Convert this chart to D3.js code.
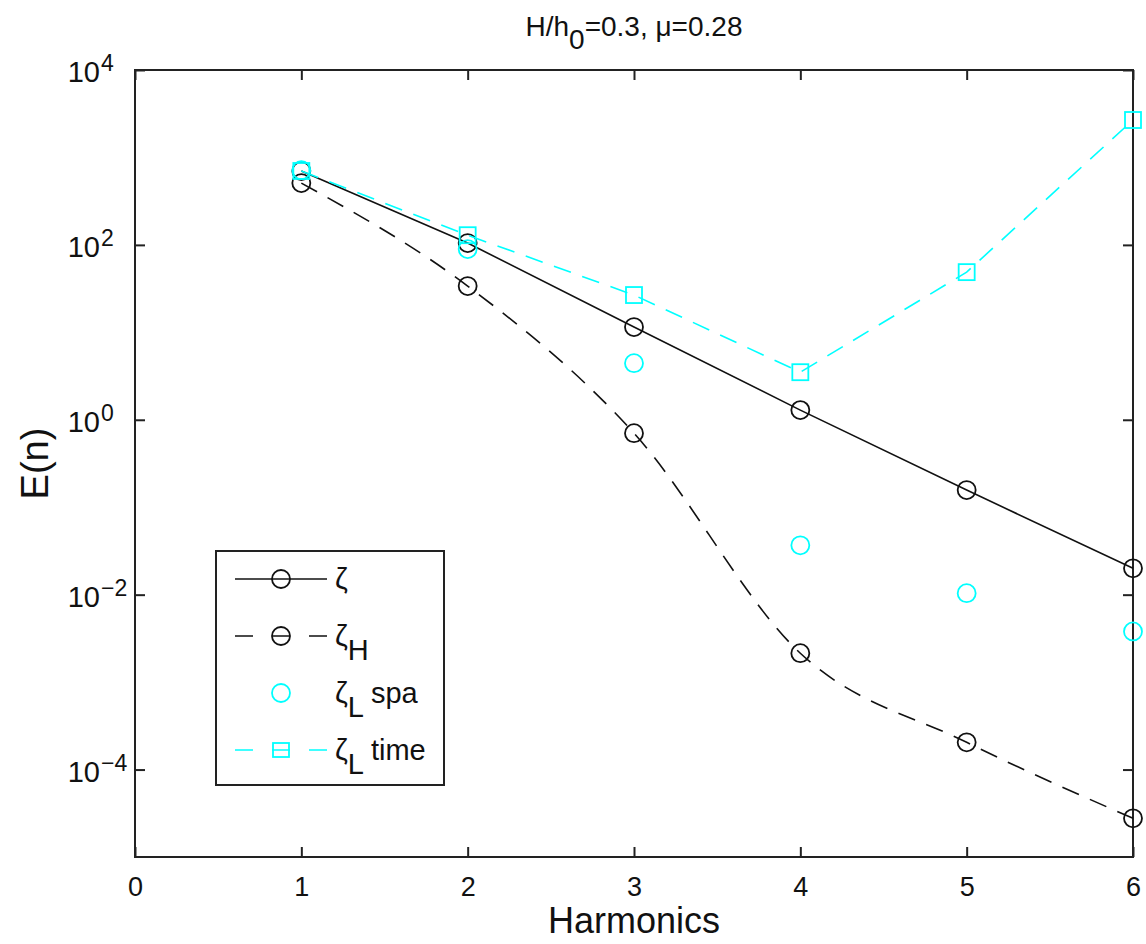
<!DOCTYPE html>
<html>
<head>
<meta charset="utf-8">
<script src="https://cdn.jsdelivr.net/npm/d3@7"></script>
<style>
body { margin: 0; background: #fff; }
</style>
</head>
<body>
<div id="chart"></div>
<script>
// values
const harmonics = [1, 2, 3, 4, 5, 6];
const zeta = [700, 105, 11.5, 1.29, 0.157, 0.020];
const zeta_H = [509, 33.8, 0.703, 0.00214, 2.05e-4, 2.77e-5];
const zeta_L_spa = [715, 89.6, 4.44, 0.0367, 0.0104, 0.0038];
const zeta_L_time = [700, 129, 26.7, 3.5, 48.8, 2680];
const x_ticks = [0, 1, 2, 3, 4, 5, 6];
const y_exponents = [4, 2, 0, -2, -4];

const width = 1146, height = 944;
const plot_left = 135, plot_right = 1133, plot_top = 70, plot_bottom = 857;
const font = "'Liberation Sans', Arial, sans-serif";
const cyan = '#00ffff';

var svg = d3.select('#chart').append('svg')
	.attr('width', width)
	.attr('height', height)
	.style('font-family', font)

var x = d3.scaleLinear().domain([0, 6]).range([plot_left, plot_right]);
var y = d3.scaleLog().domain([1e-5, 1e4]).range([plot_bottom, plot_top]);

// axes, ticks inward, mirrored on top and right
svg.append('g')
	.attr('transform', 'translate(0,' + plot_bottom + ')')
	.call(d3.axisBottom(x).tickValues(x_ticks).tickSizeInner(-10).tickSizeOuter(0).tickPadding(20).tickFormat(d3.format('d')))
svg.append('g')
	.attr('transform', 'translate(0,' + plot_top + ')')
	.call(d3.axisTop(x).tickValues(x_ticks).tickSizeInner(-10).tickSizeOuter(0).tickFormat(''))
svg.append('g')
	.attr('transform', 'translate(' + plot_left + ',0)')
	.call(d3.axisLeft(y).tickValues(y_exponents.map(e => Math.pow(10, e))).tickSizeInner(-10).tickSizeOuter(0).tickFormat(''))
svg.append('g')
	.attr('transform', 'translate(' + plot_right + ',0)')
	.call(d3.axisRight(y).tickValues(y_exponents.map(e => Math.pow(10, e))).tickSizeInner(-10).tickSizeOuter(0).tickFormat(''))

svg.selectAll('.domain').remove()
svg.selectAll('.tick line').attr('stroke', '#222').attr('stroke-width', 2)
svg.selectAll('.tick text')
	.style('font-family', font)
	.style('font-size', '27px')
	.attr('fill', '#111')

svg.append('rect')
	.attr('x', plot_left).attr('y', plot_top)
	.attr('width', plot_right - plot_left).attr('height', plot_bottom - plot_top)
	.attr('fill', 'none')
	.attr('stroke', '#222')
	.attr('stroke-width', 2)

// y tick labels as 10^n
y_exponents.forEach(function(e) {
	var yy = y(Math.pow(10, e));
	svg.append('text')
		.attr('x', 100).attr('y', yy + 12)
		.attr('text-anchor', 'end')
		.style('font-size', '29px')
		.attr('fill', '#111')
		.text('10')
	svg.append('text')
		.attr('x', 101).attr('y', yy + 1)
		.style('font-size', '23px')
		.attr('fill', '#111')
		.text(e < 0 ? '\u2212' + (-e) : e)
})

// title
var title = svg.append('text')
	.attr('x', (plot_left + plot_right) / 2).attr('y', 36)
	.attr('text-anchor', 'middle')
	.style('font-size', '28px')
	.attr('fill', '#111')
title.append('tspan').text('H/h')
title.append('tspan').attr('dy', 13).text('0')
title.append('tspan').attr('dy', -13).text('=0.3, \u03bc=0.28')

// axis labels
svg.append('text')
	.attr('x', (plot_left + plot_right) / 2).attr('y', 933)
	.attr('text-anchor', 'middle')
	.style('font-size', '36px')
	.attr('fill', '#111')
	.text('Harmonics')
svg.append('text')
	.attr('transform', 'translate(48,' + ((plot_top + plot_bottom) / 2) + ') rotate(-90)')
	.attr('text-anchor', 'middle')
	.style('font-size', '38px')
	.attr('fill', '#111')
	.text('E(n)')

function pairs(values) {
	return harmonics.map((h, i) => [h, values[i]]);
}

function add_line(values, color, dash, curve) {
	var line = d3.line()
		.x(d => x(d[0]))
		.y(d => y(d[1]))
		.curve(curve)
	svg.append('path')
		.datum(pairs(values))
		.attr('d', line)
		.attr('fill', 'none')
		.attr('stroke', color)
		.attr('stroke-width', 1.6)
		.attr('stroke-dasharray', dash)
}

function add_circles(values, color) {
	svg.append('g').selectAll('circle')
		.data(pairs(values))
		.join('circle')
		.attr('cx', d => x(d[0]))
		.attr('cy', d => y(d[1]))
		.attr('r', 9)
		.attr('fill', 'none')
		.attr('stroke', color)
		.attr('stroke-width', 1.8)
}

function add_squares(values, color) {
	svg.append('g').selectAll('rect')
		.data(pairs(values))
		.join('rect')
		.attr('x', d => x(d[0]) - 8)
		.attr('y', d => y(d[1]) - 8)
		.attr('width', 16)
		.attr('height', 16)
		.attr('fill', 'none')
		.attr('stroke', color)
		.attr('stroke-width', 1.8)
}

// same order as the original plot: later series on top
add_line(zeta, '#111', null, d3.curveLinear)
add_circles(zeta, '#111')
add_line(zeta_H, '#111', '18,12', d3.curveMonotoneX)
add_circles(zeta_H, '#111')
add_circles(zeta_L_spa, cyan)
add_line(zeta_L_time, cyan, '18,12', d3.curveLinear)
add_squares(zeta_L_time, cyan)

// legend
var legend = svg.append('g')
legend.append('rect')
	.attr('x', 216).attr('y', 551)
	.attr('width', 228).attr('height', 234)
	.attr('fill', '#fff')
	.attr('stroke', '#222')
	.attr('stroke-width', 2)

const legend_items = [
	{'sub': '', 'rest': '', 'color': '#111', 'dash': null, 'marker': 'circle', 'line': true},
	{'sub': 'H', 'rest': '', 'color': '#111', 'dash': '18,19', 'marker': 'circle', 'line': true},
	{'sub': 'L', 'rest': ' spa', 'color': cyan, 'dash': null, 'marker': 'circle', 'line': false},
	{'sub': 'L', 'rest': ' time', 'color': cyan, 'dash': '18,19', 'marker': 'square', 'line': true},
];

legend_items.forEach(function(item, i) {
	var yy = 579 + i * 57;
	if (item.line) {
		legend.append('line')
			.attr('x1', 235).attr('x2', 327)
			.attr('y1', yy).attr('y2', yy)
			.attr('stroke', item.color)
			.attr('stroke-width', 1.6)
			.attr('stroke-dasharray', item.dash)
	}
	if (item.marker == 'circle') {
		legend.append('circle')
			.attr('cx', 281).attr('cy', yy).attr('r', 9)
			.attr('fill', 'none')
			.attr('stroke', item.color)
			.attr('stroke-width', 1.8)
	} else {
		legend.append('rect')
			.attr('x', 273).attr('y', yy - 7)
			.attr('width', 16).attr('height', 14)
			.attr('fill', 'none')
			.attr('stroke', item.color)
			.attr('stroke-width', 1.8)
	}
	var t = legend.append('text')
		.attr('x', 335).attr('y', yy + 10)
		.style('font-size', '29px')
		.attr('fill', '#111')
	t.append('tspan').text('\u03b6')
	if (item.sub) {
		t.append('tspan').attr('dy', 14).text(item.sub)
		t.append('tspan').attr('dy', -14).text(item.rest)
	}
})
</script>
</body>
</html>
